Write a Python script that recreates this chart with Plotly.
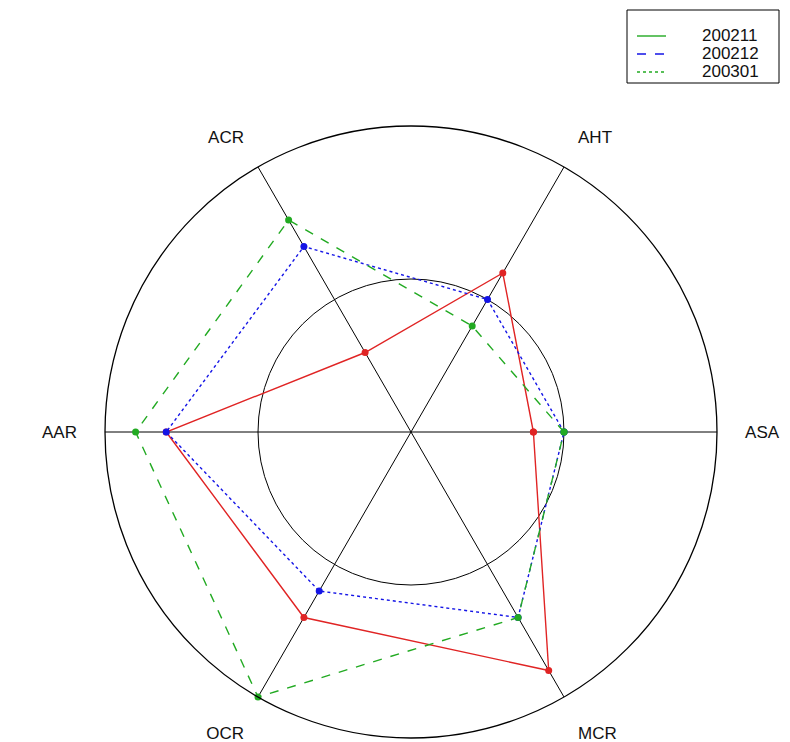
import plotly.graph_objects as go

categories = ["ASA", "AHT", "ACR", "AAR", "OCR", "MCR"]
angles = [0, 60, 120, 180, 240, 300]
series_names = ["200211", "200212", "200301"]
v_200211 = [4, 6, 3, 8, 7, 9]
v_200212 = [5, 5, 7, 8, 6, 7]
v_200301 = [5, 4, 8, 9, 10, 7]

values = [v_200211, v_200212, v_200301]
plot_colors = ["#e02424", "#1414e6", "#22aa22"]
plot_dashes = ["solid", "dot", "dash"]
legend_colors = ["#22aa22", "#1414e6", "#22aa22"]
legend_dashes = ["solid", "dash", "dot"]

fig = go.Figure()
for name, vals, col, dash in zip(series_names, values, plot_colors, plot_dashes):
    fig.add_trace(go.Scatterpolar(
        r=vals + vals[:1], theta=angles + angles[:1], mode="lines+markers",
        line=dict(color=col, width=1.4, dash=dash),
        marker=dict(color=col, size=7),
        showlegend=False, name=name))

W, H = 790, 742
OFF = 8  # page body margin
cx, cy, R = 410 - OFF + 1, 432 - OFF, 306


def px(x):
    return (x - OFF) / W


def py(y):
    return 1 - (y - OFF) / H


# compact legend box like the original
shapes = [dict(type="rect", xref="paper", yref="paper", x0=px(627), x1=px(779),
               y0=py(83), y1=py(10), line=dict(color="black", width=1),
               fillcolor="white", layer="above")]
annotations = []
row_y = [36, 54, 72]
for i, (name, col, dash) in enumerate(zip(series_names, legend_colors, legend_dashes)):
    yy = row_y[i]
    shapes.append(dict(type="line", xref="paper", yref="paper", x0=px(637), x1=px(666),
                       y0=py(yy), y1=py(yy), line=dict(color=col, width=1.4, dash=dash),
                       layer="above"))
    annotations.append(dict(text=name, xref="paper", yref="paper", x=px(700), y=py(yy),
                            xanchor="left", yanchor="middle", showarrow=False,
                            font=dict(size=17, color="#111",
                                      family="Liberation Sans, Arial, sans-serif")))

fig.update_layout(
    width=W, height=H, margin=dict(l=0, r=0, t=0, b=0),
    paper_bgcolor="white", plot_bgcolor="white", showlegend=False,
    font=dict(family="Liberation Sans, Arial, sans-serif", size=17, color="#111"),
    polar=dict(
        domain=dict(x=[(cx - R) / W, (cx + R) / W], y=[(H - cy - R) / H, (H - cy + R) / H]),
        bgcolor="white",
        radialaxis=dict(range=[0, 10], tickvals=[5, 10], showticklabels=False, ticks="",
                        showline=False, gridcolor="black", gridwidth=1.3),
        angularaxis=dict(tickmode="array", tickvals=angles, ticktext=categories,
                         direction="counterclockwise", rotation=0,
                         showline=True, linecolor="black", linewidth=1.3,
                         gridcolor="black", gridwidth=1.3,
                         ticks="outside", ticklen=24, tickcolor="rgba(0,0,0,0)"),
    ),
    shapes=shapes,
    annotations=annotations,
)
fig.write_html("out.html")
